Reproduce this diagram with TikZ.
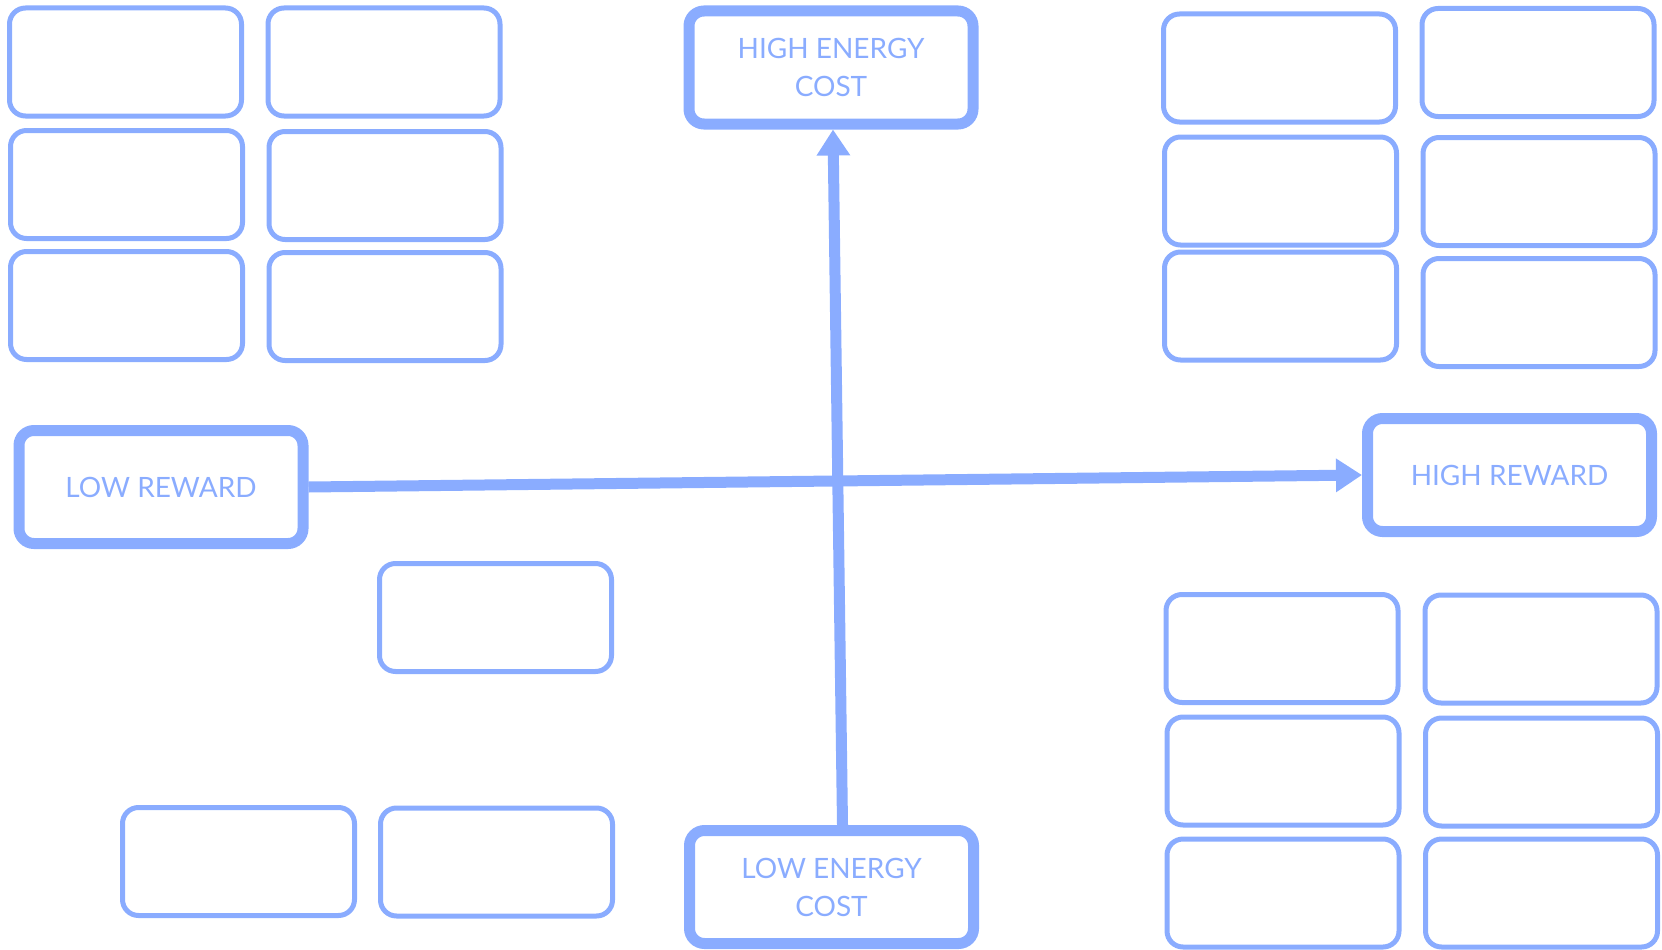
\documentclass[tikz,border=0pt]{standalone}
\usepackage{fontspec}
\setmainfont{Lato}
\usepackage{xcolor}
\usetikzlibrary{arrows.meta}
\definecolor{cardblue}{HTML}{8AACFF}
\tikzset{
    card/.style={draw=cardblue,line width=5pt,rounded corners=16pt,
        minimum width=232pt,minimum height=108pt,inner sep=0pt},
    axisbox/.style={draw=cardblue,line width=11pt,rounded corners=15pt,
        minimum width=284pt,minimum height=113pt,inner sep=0pt,
        text=cardblue,align=center,font=\fontsize{28}{38}\selectfont},
    axisarrow/.style={draw=cardblue,line width=11pt,
        -{Triangle[length=26pt,width=32pt]}},
}

\begin{document}
\begin{tikzpicture}[x=1pt,y=-1pt]
    \useasboundingbox (0,0) rectangle (1662,950);

    % empty cards, left top block
    \foreach \n/\x/\y in {lt1/125.5/62,lt2/384/62,lt3/126.5/184.5,
                          lt4/385/185.5,lt5/126.5/305.5,lt6/385/306.5}
        \node[card] (\n) at (\x,\y) {};
    % empty cards, right top block
    \foreach \n/\x/\y in {rt1/1279.5/68,rt2/1538/62.5,rt3/1280.5/191,
                          rt4/1539/191.5,rt5/1280.5/306,rt6/1539/312.5}
        \node[card] (\n) at (\x,\y) {};
    % empty cards, right bottom block
    \foreach \n/\x/\y in {rb1/1282/648.5,rb2/1541/649,rb3/1283/771,
                          rb4/1541.5/772,rb5/1283/893,rb6/1541.5/893}
        \node[card] (\n) at (\x,\y) {};
    % empty cards, left bottom
    \foreach \n/\x/\y in {lb1/495.5/617.5,lb2/238.5/861.5,lb3/496.5/862}
        \node[card] (\n) at (\x,\y) {};

    % the two axes
    \node[axisbox] (hicost) at (831,67.5) {HIGH ENERGY\\COST};
    \node[axisbox] (locost) at (831.5,887) {LOW ENERGY\\COST};
    \node[axisbox] (loreward) at (161,487) {LOW REWARD};
    \node[axisbox] (hireward) at (1509.5,475) {HIGH REWARD};

    \draw[axisarrow] (loreward.east) -- (hireward.west);
    \draw[axisarrow] ([xshift=11pt]locost.north) -- ([xshift=2pt]hicost.south);
\end{tikzpicture}
\end{document}
